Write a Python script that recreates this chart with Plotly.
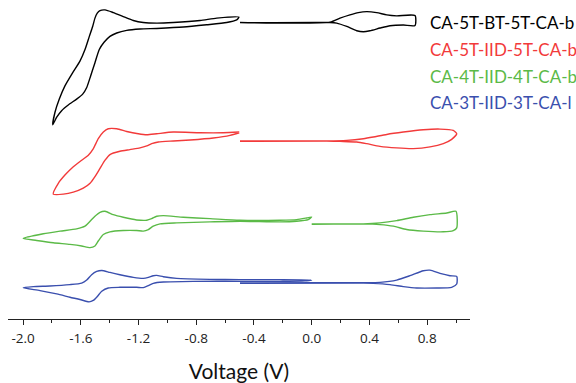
import plotly.graph_objects as go

# ---- Data (voltage in V, current in arbitrary offset units) ----
names = ["CA-5T-BT-5T-CA-b", "CA-5T-IID-5T-CA-b", "CA-4T-IID-4T-CA-b", "CA-3T-IID-3T-CA-l"]
colors = ["#000000", "#F23A3A", "#5BBA47", "#3A4FAE"]

# CA-5T-BT-5T-CA-b
black_neg_v = [-0.504, -0.658, -0.774, -0.959, -1.074, -1.167, -1.236, -1.306, -1.375, -1.432, -1.467, -1.486,
               -1.502, -1.518, -1.541, -1.571, -1.606, -1.656, -1.710, -1.749, -1.779, -1.795,
               -1.767, -1.733, -1.687, -1.629, -1.587, -1.559, -1.532, -1.502, -1.472, -1.439, -1.398,
               -1.351, -1.282, -1.190, -1.074, -0.890, -0.728, -0.589, -0.520, -0.504]
black_neg_i = [304.7, 303.7, 301.3, 299.3, 298.7, 299.3, 301.3, 305.3, 309.3, 312.0, 311.3, 308.7,
               303.7, 295.3, 285.3, 272.0, 260.3, 248.7, 235.3, 222.0, 208.7, 196.0,
               203.7, 210.3, 216.0, 222.0, 227.0, 233.7, 245.3, 258.7, 272.0, 279.3, 285.3,
               288.7, 291.3, 292.7, 293.3, 294.7, 297.0, 299.3, 302.0, 304.7]
black_pos_v = [-0.497, 0.127, 0.196, 0.265, 0.323, 0.381, 0.450, 0.520, 0.589, 0.716, 0.716,
               0.635, 0.543, 0.474, 0.404, 0.358, 0.312, 0.243, 0.173, 0.127, -0.497]
black_pos_i = [299.3, 299.7, 303.7, 307.0, 309.3, 310.3, 309.3, 307.0, 306.0, 306.3, 296.3,
               296.7, 296.0, 293.7, 291.0, 290.0, 291.0, 295.3, 298.7, 299.3, 299.0]

# CA-5T-IID-5T-CA-b
red_neg_v = [-0.502, -0.613, -0.774, -0.959, -1.074, -1.143, -1.202, -1.282, -1.351, -1.410, -1.444, -1.479,
             -1.513, -1.548, -1.594, -1.652, -1.710, -1.756, -1.791,
             -1.721, -1.652, -1.583, -1.536, -1.502, -1.467, -1.432, -1.398, -1.329, -1.260, -1.190,
             -1.143, -1.109, -1.063, -0.959, -0.843, -0.682, -0.566, -0.502]
red_neg_i = [188.7, 188.0, 188.0, 188.7, 187.0, 186.0, 187.0, 189.3, 192.0, 192.0, 188.7, 182.0,
             172.0, 165.3, 160.3, 153.7, 145.3, 137.0, 126.0,
             126.0, 128.0, 132.0, 137.0, 143.7, 152.0, 160.3, 166.0, 169.3, 171.0, 172.7,
             174.7, 177.0, 178.7, 179.7, 180.7, 182.7, 185.3, 188.0]
red_pos_v = [-0.497, 0.104, 0.243, 0.358, 0.427, 0.520, 0.635, 0.773, 0.889, 0.981, 1.005,
             0.970, 0.912, 0.820, 0.704, 0.589, 0.473, 0.381, 0.312, 0.196, 0.104, -0.497]
red_pos_i = [179.7, 179.7, 180.3, 182.0, 183.7, 186.3, 188.7, 191.0, 191.7, 190.3, 187.0,
             181.3, 177.0, 173.7, 172.0, 172.7, 174.3, 177.0, 178.7, 179.3, 179.7, 179.3]

# CA-4T-IID-4T-CA-b
green_neg_v = [0.000, -0.035, -0.104, -0.220, -0.497, -0.705, -0.890, -1.028, -1.074, -1.109, -1.143, -1.213,
               -1.306, -1.375, -1.432, -1.467, -1.502, -1.536, -1.571, -1.629, -1.744, -1.860, -1.999,
               -1.906, -1.791, -1.675, -1.594, -1.536, -1.502, -1.479, -1.444, -1.398, -1.306, -1.213,
               -1.167, -1.132, -1.098, -1.051, -0.936, -0.705, -0.497, -0.220, -0.104, -0.024, 0.000]
green_neg_i = [103.0, 102.0, 100.3, 99.7, 99.7, 101.3, 102.7, 104.3, 103.7, 101.3, 99.7, 100.0,
               102.7, 105.3, 108.7, 107.7, 103.7, 98.7, 93.7, 91.0, 88.7, 86.0, 81.3,
               79.3, 77.0, 75.3, 73.7, 72.0, 73.7, 78.7, 85.3, 88.0, 89.3, 89.3,
               88.7, 90.3, 93.7, 96.0, 97.0, 98.0, 98.7, 98.0, 98.7, 100.3, 103.0]
green_pos_v = [0.000, 0.358, 0.473, 0.589, 0.704, 0.820, 0.936, 1.000, 1.005,
               0.981, 0.912, 0.773, 0.658, 0.566, 0.473, 0.358, 0.000]
green_pos_i = [96.0, 96.0, 97.0, 99.3, 102.7, 105.3, 107.0, 108.7, 92.0,
               89.3, 88.0, 88.7, 90.3, 93.7, 95.3, 96.0, 95.7]

# CA-3T-IID-3T-CA-l
blue_neg_v = [0.000, -0.220, -0.497, -0.705, -0.936, -1.028, -1.074, -1.098, -1.132, -1.167, -1.236, -1.329,
              -1.398, -1.455, -1.490, -1.525, -1.559, -1.594, -1.675, -1.814, -1.929, -1.999,
              -1.883, -1.767, -1.675, -1.606, -1.543, -1.514, -1.486, -1.455, -1.410, -1.329, -1.213,
              -1.167, -1.132, -1.098, -1.028, -0.821, -0.497, -0.220, -0.046, 0.000]
blue_neg_i = [39.3, 39.7, 39.7, 40.0, 41.0, 42.7, 44.0, 43.7, 42.0, 41.0, 42.0, 44.7,
              47.0, 49.0, 48.0, 44.7, 39.3, 36.3, 34.7, 33.3, 32.7, 31.5,
              28.7, 25.3, 22.0, 19.7, 17.3, 18.7, 22.7, 28.0, 31.3, 32.0, 32.0,
              31.7, 33.7, 36.0, 37.3, 38.0, 38.0, 38.0, 38.5, 39.3]
blue_pos_v = [-0.497, 0.011, 0.358, 0.473, 0.589, 0.681, 0.773, 0.820, 0.889, 0.958, 1.005,
              1.005, 0.970, 0.866, 0.728, 0.635, 0.543, 0.427, 0.358, -0.497]
blue_pos_i = [36.3, 36.7, 36.7, 37.0, 39.3, 43.7, 48.7, 49.3, 46.0, 43.7, 43.0,
              35.3, 32.0, 31.3, 31.3, 32.7, 34.7, 36.0, 36.3, 36.0]

legend_y = [299, 272, 245, 219]
tick_vals = [-2.0, -1.6, -1.2, -0.8, -0.4, 0.0, 0.4, 0.8]
tick_text = ["-2.0", "-1.6", "-1.2", "-0.8", "-0.4", "0.0", "0.4", "0.8"]

segments = [
    [(black_neg_v, black_neg_i), (black_pos_v, black_pos_i)],
    [(red_neg_v, red_neg_i), (red_pos_v, red_pos_i)],
    [(green_neg_v, green_neg_i), (green_pos_v, green_pos_i)],
    [(blue_neg_v, blue_neg_i), (blue_pos_v, blue_pos_i)],
]

fig = go.Figure()
for name, col, segs in zip(names, colors, segments):
    for v, i in segs:
        fig.add_trace(go.Scatter(x=v, y=i, mode="lines", name=name, showlegend=False,
                                 line=dict(color=col, width=1.4, shape="spline", smoothing=0.6)))

for name, col, ly in zip(names, colors, legend_y):
    fig.add_annotation(x=0.909, xref="paper", y=ly, yref="y", text=name, showarrow=False,
                       xanchor="left", yanchor="middle",
                       font=dict(family="Lato, Open Sans, sans-serif", size=17, color=col))

fig.update_layout(
    width=576, height=383,
    margin=dict(l=8, r=106, t=0, b=61),
    paper_bgcolor="white", plot_bgcolor="white",
    showlegend=False,
    xaxis=dict(range=[-2.1046, 1.097], showgrid=False, zeroline=False,
               showline=True, linecolor="#222", linewidth=1,
               ticks="outside", ticklen=5, tickcolor="#222", tickwidth=1,
               tickvals=tick_vals, ticktext=tick_text, ticklabelstandoff=2,
               minor=dict(dtick=0.2, tick0=-2.0, ticks="outside", ticklen=3, tickcolor="#222", showgrid=False),
               tickfont=dict(family="Open Sans, sans-serif", size=13.5, color="#222"),
               title=dict(text="Voltage (V)", standoff=21,
                          font=dict(family="Lato, Open Sans, sans-serif", size=21, color="#111"))),
    yaxis=dict(range=[0, 322], visible=False),
)

fig.write_html("out.html")
